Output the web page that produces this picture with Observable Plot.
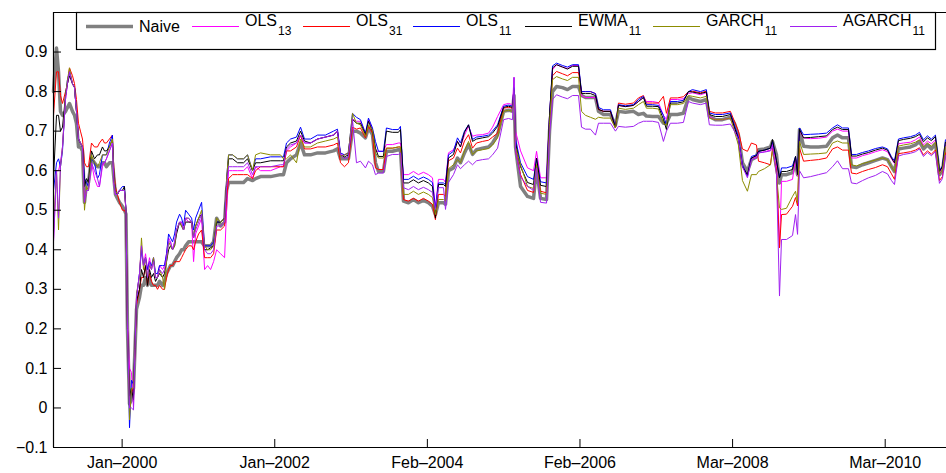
<!DOCTYPE html>
<html>
<head>
<meta charset="utf-8">
<script src="https://cdn.jsdelivr.net/npm/d3@7"></script>
<script src="https://cdn.jsdelivr.net/npm/@observablehq/plot@0.6"></script>
<style>
  body { margin: 0; background: #fff; }
  #chart { width: 946px; height: 473px; }
  #chart svg { display: block; }
</style>
</head>
<body>
<div id="chart"></div>
<script>
// Observation times, in decimal years.
const t = [
  1999.135, 1999.175, 1999.202, 1999.228, 1999.255, 1999.295, 1999.321, 1999.348, 1999.388, 1999.415,
  1999.441, 1999.468, 1999.494, 1999.521, 1999.548, 1999.574, 1999.601, 1999.641, 1999.681, 1999.721,
  1999.747, 1999.787, 1999.814, 1999.840, 1999.880, 1999.920, 1999.940, 1999.960, 1999.987, 2000.013,
  2000.053, 2000.080, 2000.100, 2000.120, 2000.147, 2000.173, 2000.200, 2000.220, 2000.240, 2000.280,
  2000.306, 2000.333, 2000.360, 2000.386, 2000.413, 2000.439, 2000.466, 2000.493, 2000.519, 2000.546,
  2000.586, 2000.612, 2000.639, 2000.666, 2000.692, 2000.719, 2000.746, 2000.772, 2000.812, 2000.839,
  2000.865, 2000.892, 2000.932, 2000.972, 2000.998, 2001.025, 2001.065, 2001.105, 2001.145, 2001.185,
  2001.225, 2001.265, 2001.305, 2001.358, 2001.411, 2001.438, 2001.464, 2001.518, 2001.584, 2001.664,
  2001.717, 2001.784, 2001.824, 2001.890, 2002.023, 2002.156, 2002.196, 2002.236, 2002.290, 2002.369,
  2002.423, 2002.476, 2002.556, 2002.649, 2002.755, 2002.862, 2002.915, 2002.955, 2003.008, 2003.061,
  2003.115, 2003.168, 2003.221, 2003.288, 2003.328, 2003.381, 2003.421, 2003.461, 2003.527, 2003.567,
  2003.647, 2003.727, 2003.754, 2003.794, 2003.860, 2003.927, 2003.993, 2004.060, 2004.126, 2004.180,
  2004.219, 2004.259, 2004.326, 2004.353, 2004.392, 2004.459, 2004.512, 2004.552, 2004.605, 2004.659,
  2004.712, 2004.765, 2004.845, 2004.925, 2004.978, 2005.045, 2005.125, 2005.191, 2005.244, 2005.264,
  2005.284, 2005.351, 2005.444, 2005.524, 2005.564, 2005.617, 2005.697, 2005.737, 2005.777, 2005.830,
  2005.910, 2005.976, 2006.043, 2006.123, 2006.163, 2006.216, 2006.282, 2006.349, 2006.389, 2006.456,
  2006.549, 2006.615, 2006.655, 2006.748, 2006.855, 2006.921, 2006.988, 2007.028, 2007.108, 2007.188,
  2007.254, 2007.294, 2007.347, 2007.440, 2007.520, 2007.587, 2007.640, 2007.747, 2007.826, 2007.866,
  2007.946, 2008.039, 2008.146, 2008.199, 2008.252, 2008.306, 2008.372, 2008.425, 2008.492, 2008.519,
  2008.598, 2008.678, 2008.705, 2008.758, 2008.798, 2008.825, 2008.891, 2008.971, 2009.011, 2009.038,
  2009.064, 2009.118, 2009.211, 2009.317, 2009.424, 2009.504, 2009.570, 2009.637, 2009.716, 2009.756,
  2009.823, 2009.903, 2009.983, 2010.076, 2010.169, 2010.236, 2010.289, 2010.329, 2010.382, 2010.449,
  2010.542, 2010.608, 2010.662, 2010.715, 2010.768, 2010.821, 2010.875, 2010.928, 2010.968, 2011.008
];

const naive = [
  .80,.91,.85,.75,.74,.75,.76,.77,.75,.74,
  .72,.66,.66,.65,.52,.57,.57,.63,.62,.61,
  .61,.62,.62,.61,.62,.62,.58,.54,.53,.52,
  .51,.50,.49,.20,.01,.02,.05,.15,.25,.28,
  .31,.31,.33,.31,.33,.31,.31,.31,.31,.32,
  .31,.32,.34,.35,.36,.36,.37,.38,.39,.40,
  .40,.41,.42,.42,.42,.42,.42,.42,.41,.41,
  .41,.42,.48,.46,.47,.55,.57,.57,.57,.57,
  .58,.575,.58,.585,.585,.59,.59,.62,.63,.64,
  .67,.64,.64,.645,.645,.65,.655,.63,.63,.63,
  .70,.70,.695,.683,.708,.691,.62,.598,.598,.649,
  .649,.653,.653,.523,.519,.527,.519,.525,.519,.51,
  .489,.519,.519,.515,.60,.607,.632,.62,.645,.666,
  .641,.653,.657,.66,.67,.691,.75,.753,.75,.79,
  .66,.56,.535,.53,.607,.53,.527,.70,.80,.813,
  .81,.805,.813,.813,.79,.785,.785,.785,.75,.742,
  .742,.715,.75,.748,.75,.742,.745,.738,.737,.737,
  .72,.72,.742,.742,.745,.785,.78,.775,.78,.737,
  .729,.729,.735,.72,.69,.62,.598,.628,.635,.653,
  .655,.66,.674,.64,.569,.59,.59,.595,.624,.59,
  .704,.662,.66,.66,.662,.683,.69,.683,.683,.61,
  .608,.615,.62,.626,.632,.628,.61,.598,.655,.657,
  .66,.665,.674,.655,.665,.655,.668,.59,.60,.655
];

const ols13 = [
  .42,.60,.60,.62,.66,.78,.82,.85,.82,.81,
  .75,.68,.67,.66,.52,.55,.55,.62,.58,.56,
  .56,.61,.62,.63,.65,.67,.57,.54,.54,.55,
  .55,.55,.50,.22,.10,.09,.00,.15,.28,.34,
  .41,.36,.39,.35,.38,.35,.38,.33,.33,.36,
  .35,.36,.39,.43,.42,.40,.42,.45,.47,.47,
  .45,.48,.47,.47,.37,.44,.46,.48,.35,.36,
  .35,.37,.40,.39,.38,.50,.60,.60,.60,.60,
  .61,.58,.61,.60,.60,.61,.61,.65,.66,.67,
  .69,.67,.67,.68,.685,.69,.70,.64,.64,.645,
  .73,.725,.725,.691,.729,.704,.649,.649,.649,.666,
  .666,.67,.67,.59,.59,.598,.59,.596,.59,.582,
  .506,.578,.578,.57,.645,.653,.674,.66,.69,.712,
  .687,.69,.691,.695,.71,.737,.767,.77,.767,.836,
  .70,.65,.607,.60,.649,.582,.582,.74,.855,.868,
  .862,.858,.866,.866,.79,.785,.785,.785,.755,.75,
  .75,.708,.765,.762,.765,.775,.785,.775,.775,.772,
  .74,.73,.78,.78,.782,.795,.797,.792,.797,.737,
  .729,.729,.733,.71,.685,.61,.586,.632,.635,.645,
  .648,.652,.666,.62,.405,.573,.573,.578,.632,.586,
  .70,.683,.681,.682,.685,.70,.705,.70,.70,.632,
  .632,.638,.642,.648,.653,.648,.63,.618,.668,.67,
  .672,.678,.685,.665,.675,.668,.678,.595,.608,.665
];

const ols31 = [
  .74,.85,.85,.79,.77,.80,.82,.86,.84,.82,
  .78,.72,.70,.68,.62,.61,.61,.67,.66,.66,
  .67,.68,.67,.67,.68,.69,.60,.56,.54,.52,
  .50,.50,.49,.20,.02,.04,.05,.15,.26,.30,
  .33,.33,.36,.31,.34,.32,.31,.31,.30,.31,
  .30,.30,.33,.35,.36,.36,.37,.37,.37,.38,
  .39,.40,.41,.41,.40,.42,.44,.45,.38,.38,
  .38,.39,.45,.45,.46,.53,.58,.59,.59,.59,
  .59,.58,.60,.61,.61,.61,.61,.65,.65,.66,
  .69,.655,.655,.66,.66,.665,.67,.62,.61,.62,
  .71,.705,.708,.683,.712,.695,.607,.603,.603,.657,
  .657,.66,.66,.527,.523,.53,.523,.53,.523,.515,
  .476,.54,.54,.535,.625,.632,.657,.645,.675,.691,
  .657,.67,.674,.677,.685,.695,.758,.76,.758,.80,
  .65,.59,.55,.545,.615,.548,.544,.72,.84,.851,
  .845,.84,.848,.848,.80,.80,.80,.795,.755,.75,
  .75,.708,.771,.768,.771,.784,.79,.771,.771,.771,
  .788,.745,.784,.784,.787,.80,.801,.797,.801,.75,
  .746,.746,.75,.725,.70,.655,.649,.67,.665,.624,
  .62,.615,.657,.60,.405,.489,.49,.51,.532,.511,
  .657,.624,.626,.628,.632,.655,.66,.652,.652,.594,
  .592,.598,.603,.608,.615,.61,.592,.578,.643,.645,
  .648,.652,.658,.64,.65,.642,.652,.575,.585,.645
];

const ols11 = [
  .55,.62,.63,.61,.65,.79,.83,.85,.82,.81,
  .75,.68,.67,.66,.58,.57,.56,.63,.62,.58,
  .59,.64,.64,.64,.67,.69,.58,.55,.54,.55,
  .56,.56,.50,.20,-.05,.07,.06,.16,.28,.34,
  .40,.36,.38,.35,.37,.36,.38,.34,.34,.36,
  .36,.36,.39,.44,.43,.42,.44,.47,.49,.48,
  .46,.50,.49,.48,.45,.48,.50,.52,.41,.41,
  .41,.42,.47,.47,.48,.58,.64,.64,.63,.63,
  .64,.60,.63,.63,.635,.635,.635,.67,.68,.685,
  .71,.68,.68,.69,.69,.70,.705,.645,.64,.645,
  .745,.735,.729,.695,.733,.708,.674,.649,.649,.708,
  .704,.704,.712,.578,.578,.586,.578,.584,.578,.57,
  .506,.569,.569,.565,.64,.649,.683,.67,.70,.716,
  .679,.685,.687,.69,.70,.716,.763,.766,.763,.81,
  .68,.62,.585,.578,.632,.572,.569,.74,.865,.872,
  .866,.862,.868,.868,.80,.80,.80,.795,.76,.754,
  .754,.71,.767,.764,.767,.78,.788,.767,.767,.765,
  .74,.715,.775,.775,.778,.80,.805,.80,.805,.746,
  .742,.742,.746,.715,.685,.615,.586,.636,.64,.649,
  .652,.657,.674,.625,.582,.607,.607,.612,.636,.595,
  .708,.691,.692,.693,.695,.708,.716,.708,.708,.641,
  .641,.646,.65,.656,.66,.655,.635,.625,.68,.683,
  .686,.69,.697,.678,.688,.68,.69,.60,.612,.678
];

const ewma11 = [
  .58,.74,.74,.70,.71,.79,.82,.84,.82,.81,
  .75,.68,.67,.66,.56,.58,.57,.65,.63,.64,
  .64,.66,.65,.65,.66,.68,.58,.55,.54,.55,
  .55,.56,.50,.20,.03,.05,.02,.16,.27,.30,
  .35,.33,.36,.31,.35,.33,.34,.32,.33,.34,
  .33,.34,.37,.40,.41,.40,.41,.44,.47,.46,
  .45,.47,.47,.47,.43,.46,.48,.49,.40,.40,
  .405,.41,.47,.47,.48,.57,.63,.63,.62,.62,
  .63,.60,.62,.62,.625,.625,.625,.66,.67,.675,
  .70,.675,.67,.68,.685,.69,.70,.64,.635,.64,
  .73,.72,.72,.691,.725,.70,.657,.636,.636,.70,
  .697,.697,.704,.569,.569,.577,.569,.575,.569,.56,
  .48,.565,.565,.56,.632,.641,.674,.66,.697,.716,
  .674,.68,.683,.686,.695,.712,.76,.763,.76,.805,
  .67,.61,.57,.565,.632,.563,.56,.74,.86,.868,
  .862,.857,.864,.864,.795,.795,.795,.79,.755,.75,
  .75,.708,.765,.762,.765,.775,.785,.763,.763,.762,
  .73,.704,.771,.771,.774,.80,.799,.795,.799,.742,
  .737,.737,.742,.71,.68,.61,.59,.632,.638,.649,
  .652,.657,.679,.625,.582,.598,.598,.603,.636,.59,
  .704,.683,.684,.686,.688,.704,.71,.704,.704,.637,
  .637,.642,.646,.652,.657,.652,.632,.62,.676,.679,
  .682,.686,.692,.673,.683,.676,.686,.598,.61,.672
];

const garch11 = [
  .45,.60,.45,.61,.66,.79,.83,.86,.82,.81,
  .75,.68,.67,.66,.50,.56,.55,.64,.62,.61,
  .62,.64,.64,.64,.66,.68,.58,.55,.54,.55,
  .55,.55,.50,.20,-.03,.05,.05,.16,.29,.33,
  .43,.35,.38,.33,.36,.35,.38,.33,.33,.35,
  .33,.30,.37,.42,.41,.40,.41,.45,.47,.46,
  .45,.48,.48,.47,.43,.46,.48,.50,.41,.40,
  .40,.41,.48,.47,.48,.58,.64,.64,.63,.63,
  .64,.60,.64,.645,.64,.64,.63,.63,.64,.62,
  .68,.66,.66,.67,.675,.68,.685,.635,.64,.645,
  .745,.72,.716,.687,.716,.704,.645,.632,.632,.657,
  .657,.66,.66,.54,.54,.548,.54,.546,.54,.532,
  .489,.527,.527,.523,.605,.615,.628,.62,.65,.674,
  .641,.65,.653,.656,.665,.683,.75,.753,.75,.79,
  .66,.615,.56,.555,.615,.543,.54,.72,.83,.838,
  .832,.828,.836,.836,.75,.74,.735,.73,.735,.733,
  .733,.708,.758,.755,.758,.767,.775,.758,.758,.756,
  .72,.715,.767,.767,.77,.79,.788,.784,.788,.733,
  .729,.729,.733,.70,.665,.575,.548,.59,.59,.598,
  .605,.615,.649,.59,.506,.502,.505,.535,.548,.519,
  .674,.641,.642,.643,.645,.67,.675,.67,.67,.615,
  .612,.618,.622,.627,.632,.628,.61,.598,.662,.665,
  .668,.672,.678,.66,.67,.662,.672,.592,.602,.66
];

const agarch11 = [
  .42,.60,.48,.61,.66,.78,.82,.85,.82,.81,
  .75,.68,.67,.66,.52,.55,.55,.62,.60,.58,
  .56,.62,.62,.63,.65,.67,.57,.54,.54,.55,
  .55,.55,.50,.20,.00,.00,-.005,.15,.28,.34,
  .41,.36,.38,.33,.37,.35,.37,.33,.33,.35,
  .34,.35,.38,.42,.42,.40,.42,.45,.47,.47,
  .45,.48,.48,.47,.43,.45,.47,.49,.40,.39,
  .39,.40,.46,.46,.47,.56,.61,.61,.61,.61,
  .62,.59,.61,.61,.61,.615,.615,.655,.665,.67,
  .69,.67,.67,.68,.685,.69,.70,.64,.63,.635,
  .73,.62,.624,.607,.624,.615,.59,.594,.594,.636,
  .641,.641,.645,.557,.552,.56,.552,.558,.552,.545,
  .502,.557,.557,.502,.57,.59,.615,.605,.615,.624,
  .615,.625,.628,.63,.64,.657,.729,.732,.729,.836,
  .65,.585,.56,.55,.607,.52,.518,.69,.78,.792,
  .786,.782,.79,.79,.71,.705,.705,.69,.72,.72,
  .72,.70,.712,.71,.712,.72,.725,.725,.725,.722,
  .674,.70,.72,.72,.722,.775,.771,.767,.771,.716,
  .715,.715,.718,.70,.68,.61,.582,.628,.632,.645,
  .647,.65,.662,.59,.283,.426,.426,.436,.489,.439,
  .60,.582,.585,.59,.595,.61,.625,.605,.605,.569,
  .567,.575,.582,.588,.598,.592,.575,.565,.637,.641,
  .644,.648,.655,.636,.646,.638,.648,.568,.58,.638
];

// Series in drawing order: the wide Naive line sits underneath the rest.
const seriesValues = [naive, ols13, ols31, ols11, ewma11, garch11, agarch11];
const seriesNames  = ["Naive", "OLS13", "OLS31", "OLS11", "EWMA11", "GARCH11", "AGARCH11"];
const legendBase   = ["Naive", "OLS", "OLS", "OLS", "EWMA", "GARCH", "AGARCH"];
const legendSub    = ["", "13", "31", "11", "11", "11", "11"];
const seriesColors = ["#808080", "#ff00ff", "#ff0000", "#0000ff", "#000000", "#8c8c00", "#a020f0"];

const yTicks = [-0.1, 0, 0.1, 0.2, 0.3, 0.4, 0.5, 0.6, 0.7, 0.8, 0.9];
const xTickDates = ["2000-01-19", "2002-01-30", "2004-02-11", "2006-02-22", "2008-03-05", "2010-03-17"];
const xExtent = [1999.135, 2011.022];
const yExtent = [-0.1, 1.0];

// Decimal year -> Date
function yearToDate(y) {
  const yr = Math.floor(y);
  const a = Date.UTC(yr, 0, 1), b = Date.UTC(yr + 1, 0, 1);
  return new Date(a + (y - yr) * (b - a));
}

const rows = seriesNames.map((name, i) =>
  t.map((ti, j) => ({date: yearToDate(ti), value: seriesValues[i][j], series: name}))
);

const W = 946, H = 473, mL = 53, mR = 0, mT = 12, mB = 26;
const plotW = W - mL - mR, plotH = H - mT - mB;
const tickLen = 8;
const xTicks = xTickDates.map(s => new Date(s + "T00:00:00Z"));
const fmtY = d => d === 0 ? "0" : d3.format(".1f")(d);
const FONT = "'Liberation Sans', Arial, sans-serif";

const chart = Plot.plot({
  width: W,
  height: H,
  marginLeft: mL,
  marginRight: mR,
  marginTop: mT,
  marginBottom: mB,
  style: {fontFamily: FONT, fontSize: "16px", color: "#000", background: "#fff"},
  x: {type: "utc", domain: xExtent.map(yearToDate), label: null},
  y: {domain: yExtent, label: null},
  marks: [
    ...rows.map((r, i) => Plot.line(r, {
      x: "date", y: "value",
      stroke: seriesColors[i],
      strokeWidth: i === 0 ? 3.5 : 1,
      strokeLinejoin: "round"
    })),
    // inward tick marks
    Plot.gridY({ticks: yTicks, stroke: "#000", strokeOpacity: 1, insetRight: plotW - tickLen}),
    Plot.gridX({ticks: xTicks, stroke: "#000", strokeOpacity: 1, insetTop: plotH - tickLen}),
    Plot.axisY({ticks: yTicks, tickSize: 0, tickPadding: 6, tickFormat: fmtY, fill: "#000"}),
    Plot.axisX({ticks: xTicks, tickSize: 0, tickPadding: 9, tickFormat: d3.utcFormat("%b\u2013%Y"), fill: "#000"}),
    // axes box (left, bottom, top)
    Plot.ruleX([yearToDate(xExtent[0])], {stroke: "#000", strokeWidth: 1.2}),
    Plot.ruleY([yExtent[0]], {stroke: "#000", strokeWidth: 1.2}),
    Plot.ruleY([yExtent[1]], {stroke: "#000", strokeWidth: 1.2})
  ]
});

document.getElementById("chart").appendChild(chart);

// Legend box inside the top of the axes: one row, sample line then label
const legendLeft = 76.5, legendRight = 935.5;
const sampleStart = [86, 192, 303, 413, 525, 653, 790];
const sampleLen = 47;
const svg = d3.select(chart);
const lg = svg.append("g")
  .attr("font-family", FONT)
  .attr("text-anchor", "start")
  .attr("fill", "#000");
lg.append("rect")
  .attr("x", legendLeft).attr("y", mT + 0.5)
  .attr("width", legendRight - legendLeft).attr("height", 37)
  .attr("fill", "#fff").attr("stroke", "#000").attr("stroke-width", 1.2);

const lineY = 26.5;
seriesNames.forEach((name, i) => {
  const x0 = sampleStart[i];
  lg.append("line")
    .attr("x1", x0).attr("x2", x0 + sampleLen)
    .attr("y1", lineY).attr("y2", lineY)
    .attr("stroke", seriesColors[i])
    .attr("stroke-width", i === 0 ? 3.5 : 1);
  const hasSub = legendSub[i] !== "";
  const tx = x0 + sampleLen + 6;
  const txt = lg.append("text")
    .attr("x", tx)
    .attr("y", hasSub ? 26 : 32)
    .attr("font-size", 16)
    .attr("text-anchor", "start")
    .text(legendBase[i]);
  if (hasSub) {
    const w = txt.node().getComputedTextLength();
    lg.append("text")
      .attr("x", tx + w + 1)
      .attr("y", 34.5)
      .attr("font-size", 12)
      .attr("text-anchor", "start")
      .text(legendSub[i]);
  }
});
</script>
</body>
</html>
